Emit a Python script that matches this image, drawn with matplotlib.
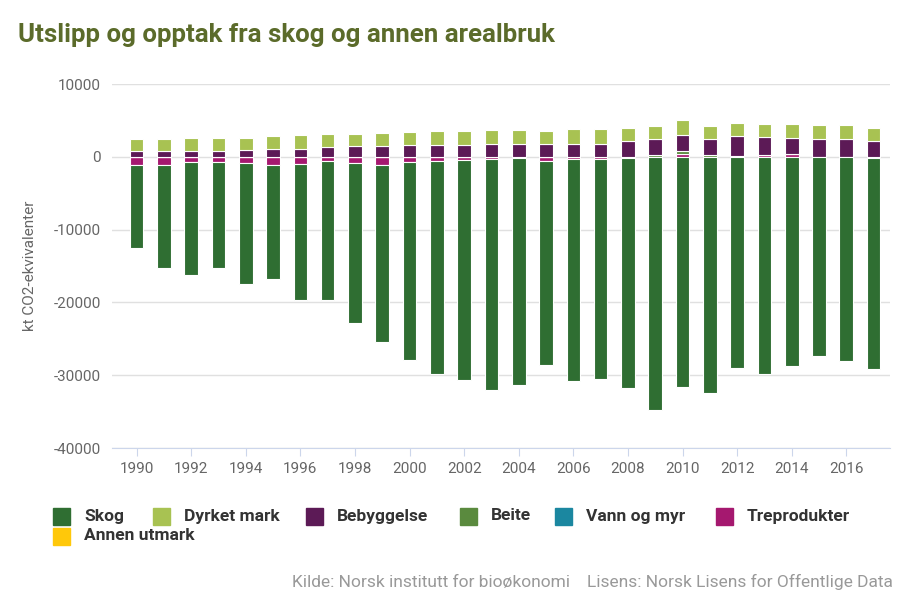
import matplotlib
matplotlib.use("Agg")
import matplotlib.pyplot as plt
from matplotlib.patches import Rectangle
import numpy as np

plt.rcParams['font.family'] = ['Roboto', 'DejaVu Sans']

years = list(range(1990, 2018))

skog = [-11370, -14240, -15550, -14590, -16640, -15690, -18770, -19110, -21990, -24320,
        -27200, -29260, -30180, -31750, -31220, -28080, -30520, -30250, -31680, -34790,
        -31640, -32470, -29040, -29860, -28770, -27400, -28080, -28980]
dyrket_mark = [1700, 1700, 1900, 1900, 1730, 1710, 1870, 1800, 1600, 1820,
               1710, 1950, 1950, 1950, 1950, 1850, 2000, 2080, 1850, 1850,
               2010, 1850, 1830, 1830, 1830, 1950, 1950, 1890]
bebyggelse = [750, 750, 750, 750, 890, 1130, 1100, 1370, 1500, 1500,
              1640, 1640, 1640, 1750, 1750, 1750, 1800, 1750, 2160, 2120,
              2270, 2120, 2650, 2440, 2160, 2400, 2400, 2120]
beite = [0, 0, 0, 0, 0, 0, 0, 0, 0, 0,
         0, 0, 0, 0, 0, 0, 0, 0, 0, 270,
         300, 270, 150, 0, 0, 0, 0, 0]
vann_og_myr = [0] * 28
treprodukter = [-1100, -1100, -750, -750, -890, -1160, -960, -620, -890, -1160,
                -750, -600, -500, -300, -150, -550, -300, -300, -100, 0,
                450, 0, 0, 250, 450, 0, 0, -200]
annen_utmark = [0] * 28

series = [
    ("Skog", skog, "#2f6e32"),
    ("Dyrket mark", dyrket_mark, "#a8c252"),
    ("Bebyggelse", bebyggelse, "#5c1a56"),
    ("Beite", beite, "#5a8a3e"),
    ("Vann og myr", vann_og_myr, "#1b87a0"),
    ("Treprodukter", treprodukter, "#a5186f"),
    ("Annen utmark", annen_utmark, "#ffc80a"),
]

fig = plt.figure(figsize=(9.01, 6.09), dpi=100)
ax = fig.add_axes([112/901, 1-448/609, (890-112)/901, (448-84)/609])

x = np.array(years, dtype=float)
pos = np.zeros(len(years))
neg = np.zeros(len(years))
# Highcharts stacks the last series nearest zero
for name, vals, col in reversed(series):
    v = np.array(vals, dtype=float)
    b = np.where(v >= 0, pos, neg)
    ax.bar(x, v, bottom=b, width=0.5, color=col, edgecolor='white', linewidth=0.8, zorder=3)
    pos = pos + np.where(v >= 0, v, 0)
    neg = neg + np.where(v < 0, v, 0)

ax.set_xlim(1989.1, 2017.6)
ax.set_ylim(-40000, 10000)
ax.set_yticks([10000, 0, -10000, -20000, -30000, -40000])
ax.set_yticklabels(["10000", "0", "-10000", "-20000", "-30000", "-40000"])
ax.set_xticks(list(range(1990, 2017, 2)))
ax.tick_params(axis='y', length=0, labelsize=11, labelcolor='#666666', pad=8)
ax.tick_params(axis='x', length=6, color='#ccd6eb', labelsize=11, labelcolor='#666666', pad=4)
ax.grid(axis='y', color='#e0e0e0', linewidth=1, zorder=0)
for s in ['top', 'right', 'left']:
    ax.spines[s].set_visible(False)
ax.spines['bottom'].set_color('#ccd6eb')
ax.spines['bottom'].set_zorder(4)
ax.set_ylabel("kt CO2-ekvivalenter", fontsize=11, color='#666666', labelpad=12)

fig.text(18/901, 1-35/609, "Utslipp og opptak fra skog og annen arealbruk",
         fontsize=18.6, fontweight='bold', color='#5b6b2a', va='center', ha='left')

# legend
leg_pos = [(53, 516), (153, 516), (306, 516), (460, 516), (555, 516), (716, 516), (53, 536)]
for (name, vals, col), (lx, ly) in zip(series, leg_pos):
    fig.patches.append(Rectangle((lx/901, 1-(ly+8.5)/609), 17/901, 17/609,
                                 transform=fig.transFigure, color=col))
    fig.text((lx+31)/901, 1-ly/609, name, fontsize=12.5, fontweight='bold', color='#333333',
             va='center', ha='left')

fig.text(893/901, 1-582/609,
         "Kilde: Norsk institutt for bioøkonomi    Lisens: Norsk Lisens for Offentlige Data",
         fontsize=12.5, color='#999999', ha='right', va='center')

fig.savefig("out.png", dpi=100)
